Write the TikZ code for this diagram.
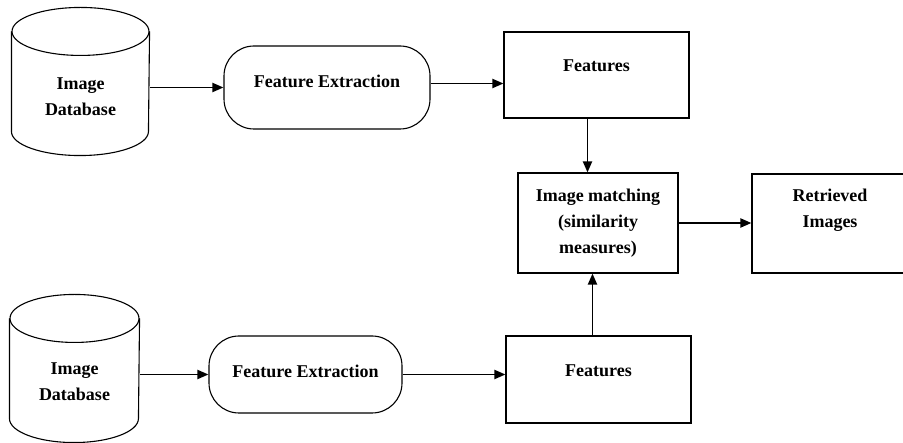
\documentclass[tikz,border=0pt]{standalone}
\usepackage{fontspec}
\setmainfont{Liberation Serif}
\usetikzlibrary{arrows.meta}

\begin{document}
\begin{tikzpicture}[x=1pt, y=-1pt,
		font=\fontsize{18}{26}\selectfont\bfseries,
		line width=1.1pt,
		dbase/.style={minimum width=#1, minimum height=147pt, inner sep=0pt},
		proc/.style={draw, rounded corners=30pt, inner sep=0pt},
		box/.style={draw, inner sep=0pt},
		txt/.style={align=center, inner sep=0pt},
		arr/.style={line width=1.9pt, -{Triangle[length=11pt, width=9pt]}}]
		\clip (0,0) rectangle (903,443);
		% upper row
		\node[dbase=137pt] (db1) at (80.5,81.5) {};
		\draw ([yshift=-24pt]db1.north west) -- ([yshift=24pt]db1.south west)
			arc[start angle=180, end angle=360, x radius=68.5pt, y radius=24pt]
			-- ([yshift=-24pt]db1.north east);
		\draw ([yshift=-24pt]db1.north) ellipse [x radius=68.5pt, y radius=24pt];
		\node[txt] at ([yshift=-15pt]db1.center) {Image\\Database};
		\node[proc, minimum width=206pt, minimum height=83pt] (fe1) at (327,87.5) {};
		\node[txt] at ([yshift=6pt]fe1.center) {Feature Extraction};
		\node[box, minimum width=185pt, minimum height=86pt] (feat1) at (596.5,75) {};
		\node[txt] at ([yshift=9pt]feat1.center) {Features};
		% matching and result
		\node[box, minimum width=160pt, minimum height=100pt] (match) at (598,223) {};
		\node[txt] at (match.center) {Image matching\\(similarity\\measures)};
		\node[box, minimum width=156pt, minimum height=99pt] (ret) at (830,223.5) {};
		\node[txt] at ([yshift=13pt]ret.center) {Retrieved\\Images};
		% lower row
		\node[dbase=129pt] (db2) at (74.5,368.5) {};
		\draw ([yshift=-24pt]db2.north west) -- ([yshift=24pt]db2.south west)
			arc[start angle=180, end angle=360, x radius=64.5pt, y radius=24pt]
			-- ([yshift=-24pt]db2.north east);
		\draw ([yshift=-24pt]db2.north) ellipse [x radius=64.5pt, y radius=24pt];
		\node[txt] at ([yshift=-13pt]db2.center) {Image\\Database};
		\node[proc, minimum width=193pt, minimum height=77pt] (fe2) at (305.5,374.5) {};
		\node[txt] at ([yshift=3pt]fe2.center) {Feature Extraction};
		\node[box, minimum width=185pt, minimum height=87pt] (feat2) at (598.5,379.5) {};
		\node[txt] at ([yshift=9pt]feat2.center) {Features};
		% arrows
		\draw[arr] (db1.east |- fe1.west) -- (fe1.west);
		\draw[arr] ([yshift=4pt]fe1.east) -- ([yshift=4pt]fe1.east -| feat1.west);
		\draw[arr] ([xshift=-9pt]feat1.south) -- ([xshift=-9pt]feat1.south |- match.north);
		\draw[arr] (match.east) -- (match.east -| ret.west);
		\draw[arr] ([xshift=-6pt]feat2.north) -- ([xshift=-6pt]feat2.north |- match.south);
		\draw[arr] (db2.east |- fe2.west) -- (fe2.west);
		\draw[arr] (fe2.east) -- (fe2.east -| feat2.west);
\end{tikzpicture}
\end{document}
